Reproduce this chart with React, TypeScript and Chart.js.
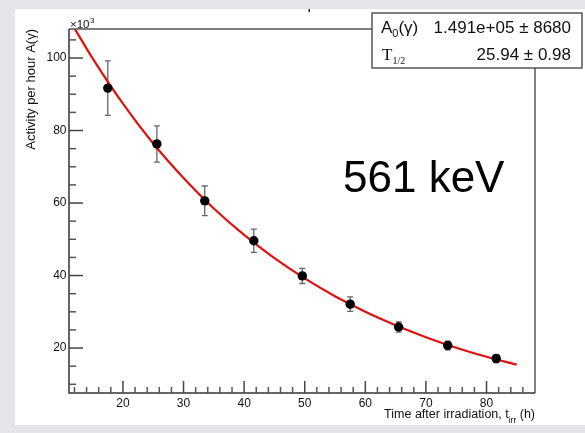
import React, { useEffect, useRef } from "react";
import { Chart, registerables } from "chart.js";
Chart.register(...registerables);

// Measured data points (time after irradiation in h, activity per hour in units of 10^3)
const timeHours = [17.5, 25.6, 33.5, 41.6, 49.6, 57.5, 65.5, 73.6, 81.6];
const activity = [91.7, 76.3, 60.6, 49.6, 39.9, 32.1, 25.8, 20.7, 17.1];
const activityErr = [7.5, 5.0, 4.1, 3.2, 2.1, 2.0, 1.4, 1.2, 1.1];

// Fitted curve
const fitTime = [12, 15, 20, 25, 30, 35, 40, 45, 50, 55, 60, 65, 70, 75, 80, 85];
const fitActivity = [108.2, 99.9, 87.4, 76.4, 66.9, 58.5, 51.2, 44.8, 39.2, 34.3, 30.0, 26.3, 23.0, 20.1, 17.6, 15.4];

// Axes
const xMin = 11.1;
const xMax = 88;
const yMin = 7.6;
const yMax = 108;
const xMajorTicks = [20, 30, 40, 50, 60, 70, 80];
const yMajorTicks = [20, 40, 60, 80, 100];

// Texts
const yTitle = "Activity per hour A(\u03b3)";
const xTitleMain = "Time after irradiation, t";
const xTitleSub = "irr";
const xTitleEnd = " (h)";
const fitA0 = "1.491e+05 \u00b1 8680";
const fitT = "25.94 \u00b1 0.98";
const energyLabel = "561 keV";

const SANS = "'Liberation Sans', Arial, Helvetica, sans-serif";
const SERIF = "'Liberation Serif', 'Times New Roman', serif";

export default function App() {
  const ref = useRef<HTMLCanvasElement>(null);

  useEffect(() => {
    document.body.style.margin = "0";
    const canvas = ref.current;
    if (!canvas) return;

    const decor = {
      id: "rootDecor",
      beforeDraw(chart: any) {
        const ctx = chart.ctx;
        ctx.save();
        ctx.fillStyle = "#e4e5e9";
        ctx.fillRect(0, 0, chart.width, chart.height);
        ctx.fillStyle = "#ffffff";
        ctx.fillRect(15, 9, chart.width - 15, 416);
        ctx.fillStyle = "#222";
        ctx.fillRect(308.5, 9, 1.5, 3);
        ctx.restore();
      },
      beforeDatasetsDraw(chart: any) {
        const ctx = chart.ctx;
        const xs = chart.scales.x;
        const ys = chart.scales.y;
        ctx.save();
        ctx.strokeStyle = "#666";
        ctx.lineWidth = 1.3;
        timeHours.forEach((t, i) => {
          const px = xs.getPixelForValue(t);
          const top = ys.getPixelForValue(activity[i] + activityErr[i]);
          const bot = ys.getPixelForValue(activity[i] - activityErr[i]);
          ctx.beginPath();
          ctx.moveTo(px, top);
          ctx.lineTo(px, bot);
          ctx.moveTo(px - 3, top);
          ctx.lineTo(px + 3, top);
          ctx.moveTo(px - 3, bot);
          ctx.lineTo(px + 3, bot);
          ctx.stroke();
        });
        ctx.restore();
      },
      afterDraw(chart: any) {
        const ctx = chart.ctx;
        const xs = chart.scales.x;
        const ys = chart.scales.y;
        const a = chart.chartArea;
        ctx.save();

        // Frame
        ctx.lineWidth = 1.5;
        ctx.strokeStyle = "#555";
        ctx.beginPath();
        ctx.moveTo(a.left, a.top);
        ctx.lineTo(a.right, a.top);
        ctx.lineTo(a.right, a.bottom);
        ctx.stroke();
        ctx.strokeStyle = "#333";
        ctx.beginPath();
        ctx.moveTo(a.left, a.top);
        ctx.lineTo(a.left, a.bottom);
        ctx.lineTo(a.right, a.bottom);
        ctx.stroke();

        // Y ticks
        ctx.lineWidth = 1.5;
        for (let v = 5; v <= yMax; v += 5) {
          if (v < yMin) continue;
          const y = ys.getPixelForValue(v);
          const major = yMajorTicks.includes(v);
          ctx.strokeStyle = major ? "#444" : "#555";
          ctx.beginPath();
          ctx.moveTo(a.left, y);
          ctx.lineTo(a.left + (major ? 14 : 7), y);
          ctx.stroke();
        }
        // X ticks
        for (let v = 12; v <= xMax; v += 2) {
          const x = xs.getPixelForValue(v);
          if (x > a.right - 1) continue;
          const major = xMajorTicks.includes(v);
          ctx.strokeStyle = major ? "#444" : "#555";
          ctx.beginPath();
          ctx.moveTo(x, a.bottom);
          ctx.lineTo(x, a.bottom - (major ? 12 : 6));
          ctx.stroke();
        }

        // Tick labels
        ctx.fillStyle = "#111";
        ctx.font = `12px ${SANS}`;
        ctx.textAlign = "right";
        ctx.textBaseline = "middle";
        yMajorTicks.forEach((v) => {
          ctx.fillText(String(v), a.left - 2.5, ys.getPixelForValue(v));
        });
        ctx.textAlign = "center";
        ctx.textBaseline = "alphabetic";
        xMajorTicks.forEach((v) => {
          ctx.fillText(String(v), xs.getPixelForValue(v), 407);
        });

        // x10^3
        ctx.textAlign = "left";
        ctx.font = `11.5px ${SANS}`;
        ctx.fillText("\u00d710", a.left + 1, 28);
        const w10 = ctx.measureText("\u00d710").width;
        ctx.font = `8px ${SANS}`;
        ctx.fillText("3", a.left + 1 + w10 + 0.5, 23);

        // Y title
        ctx.save();
        ctx.translate(31, a.top);
        ctx.rotate(-Math.PI / 2);
        ctx.font = `13px ${SANS}`;
        ctx.textAlign = "right";
        ctx.textBaseline = "middle";
        ctx.fillText(yTitle, 0, 0);
        ctx.restore();

        // X title (right aligned to axis end)
        ctx.textBaseline = "alphabetic";
        ctx.textAlign = "left";
        ctx.font = `12.5px ${SANS}`;
        const wEnd = ctx.measureText(xTitleEnd).width;
        const wMain = ctx.measureText(xTitleMain).width;
        ctx.font = `8.5px ${SANS}`;
        const wSub = ctx.measureText(xTitleSub).width;
        let xx = a.right - wEnd - wSub - wMain;
        ctx.font = `12.5px ${SANS}`;
        ctx.fillText(xTitleMain, xx, 418);
        xx += wMain;
        ctx.font = `8.5px ${SANS}`;
        ctx.fillText(xTitleSub, xx, 423);
        xx += wSub;
        ctx.font = `12.5px ${SANS}`;
        ctx.fillText(xTitleEnd, xx, 418);

        // Fit stats box
        ctx.fillStyle = "#fff";
        ctx.fillRect(372, 13, 210, 55);
        ctx.strokeStyle = "#555";
        ctx.lineWidth = 1.5;
        ctx.strokeRect(372, 13, 210, 55);
        ctx.fillStyle = "#111";
        ctx.textAlign = "left";
        ctx.font = `17px ${SANS}`;
        ctx.fillText("A", 381, 33);
        let wx = 381 + ctx.measureText("A").width;
        ctx.font = `11px ${SANS}`;
        ctx.fillText("0", wx, 37);
        wx += ctx.measureText("0").width;
        ctx.font = `17px ${SANS}`;
        ctx.fillText("(\u03b3)", wx, 33);
        ctx.font = `17px ${SERIF}`;
        ctx.fillText("T", 382, 60);
        const wT = ctx.measureText("T").width;
        ctx.font = `10px ${SERIF}`;
        ctx.fillText("1/2", 382 + wT, 64);
        ctx.font = `17px ${SANS}`;
        ctx.textAlign = "right";
        ctx.fillText(fitA0, 571, 33);
        ctx.fillText(fitT, 571, 60);

        // Energy label
        ctx.textAlign = "left";
        ctx.fillStyle = "#000";
        ctx.font = `44px ${SANS}`;
        ctx.fillText(energyLabel, 343, 192);

        ctx.restore();
      },
    };

    const chart = new Chart(canvas, {
      type: "scatter",
      data: {
        datasets: [
          {
            type: "scatter",
            data: timeHours.map((t, i) => ({ x: t, y: activity[i] })),
            pointRadius: 4.7,
            pointBackgroundColor: "#000",
            pointBorderColor: "#000",
            pointBorderWidth: 0,
          },
          {
            type: "line",
            data: fitTime.map((t, i) => ({ x: t, y: fitActivity[i] })),
            borderColor: "#e01010",
            borderWidth: 2.2,
            pointRadius: 0,
            fill: false,
            showLine: true,
            cubicInterpolationMode: "monotone",
          },
        ],
      } as any,
      options: {
        animation: false,
        responsive: false,
        maintainAspectRatio: false,
        events: [],
        layout: { padding: { left: 69, top: 29, right: 50, bottom: 40 } },
        plugins: { legend: { display: false }, tooltip: { enabled: false } },
        scales: {
          x: { type: "linear", min: xMin, max: xMax, display: false },
          y: { type: "linear", min: yMin, max: yMax, display: false },
        },
      } as any,
      plugins: [decor],
    });
    return () => chart.destroy();
  }, []);

  return <canvas ref={ref} width={585} height={433} style={{ display: "block" }} />;
}
